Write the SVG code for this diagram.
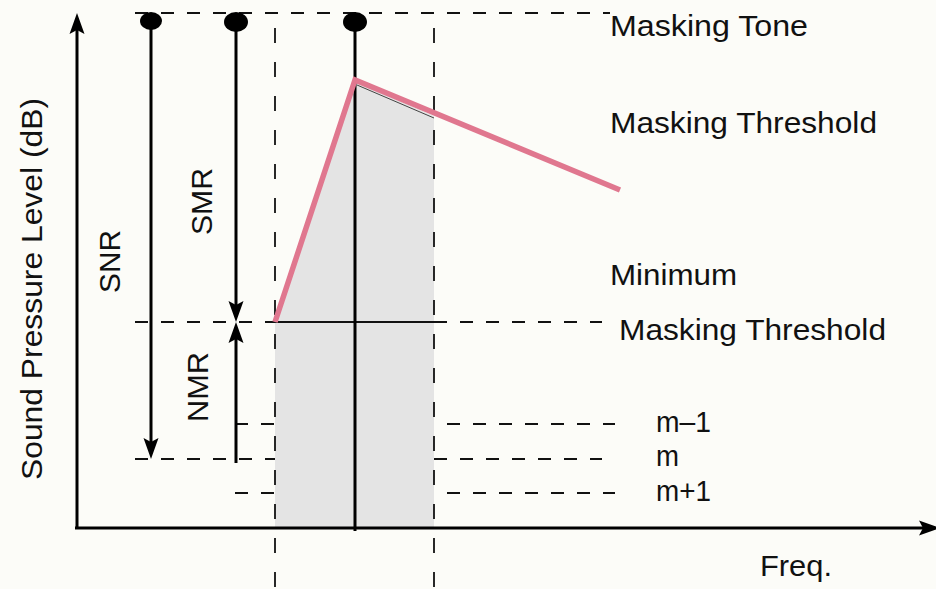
<svg xmlns="http://www.w3.org/2000/svg" width="936" height="589" viewBox="0 0 936 589">
<style>
.bg{fill:#fcfcf8}
.dh{stroke:#111;stroke-width:1.8;stroke-dasharray:13 13;fill:none}
.dv{stroke:#111;stroke-width:1.8;stroke-dasharray:15 19;fill:none}
.ln{stroke:#000;stroke-width:3;fill:none}
.ah{fill:#000}
.t{font-family:"Liberation Sans",Arial,Helvetica,sans-serif;font-size:30px;fill:#111}
</style>
<rect class="bg" x="0" y="0" width="936" height="589"/>
<g id="area">
<polygon points="275,322 355,82 434,116 434,527 275,527" fill="#e4e4e4"/>
<line x1="357" y1="85" x2="434" y2="118" stroke="#444" stroke-width="1"/>
</g>
<g id="connectors">
<line class="dh" x1="135" y1="13" x2="610" y2="13"/>
<line class="dv" x1="275" y1="28" x2="275" y2="589"/>
<line class="dv" x1="434" y1="28" x2="434" y2="589"/>
<line class="dh" x1="135" y1="322" x2="275" y2="322"/>
<line x1="275" y1="322" x2="434" y2="322" stroke="#111" stroke-width="1.8"/>
<line class="dh" x1="434" y1="322" x2="602" y2="322"/>
<line class="dh" x1="235" y1="424" x2="275" y2="424"/>
<line class="dh" x1="447" y1="424" x2="615" y2="424"/>
<line class="dh" x1="135" y1="459" x2="275" y2="459"/>
<line class="dh" x1="434" y1="459" x2="602" y2="459"/>
<line class="dh" x1="235" y1="493" x2="275" y2="493"/>
<line class="dh" x1="447" y1="493" x2="615" y2="493"/>
</g>
<g id="axes">
<line class="ln" x1="77" y1="528" x2="77" y2="26" stroke-width="3.5"/>
<path class="ah" d="M77,13 L84.5,34 L77,30 L69.5,34 Z"/>
<line class="ln" x1="75" y1="528" x2="928" y2="528" stroke-width="3.5"/>
<path class="ah" d="M940,528 L919,520.5 L923,528 L919,535.5 Z"/>
</g>
<g id="snr">
<ellipse cx="151" cy="21" rx="11" ry="9"/>
<line class="ln" x1="151" y1="21" x2="151" y2="446"/>
<path class="ah" d="M151,459 L143.5,438 L151,442 L158.5,438 Z"/>
</g>
<g id="smr">
<ellipse cx="236" cy="22" rx="12" ry="10"/>
<line class="ln" x1="236" y1="22" x2="236" y2="310"/>
<path class="ah" d="M236,322 L228.5,301 L236,305 L243.5,301 Z"/>
</g>
<g id="nmr">
<line class="ln" x1="236" y1="463" x2="236" y2="334"/>
<path class="ah" d="M236,322 L243.5,343 L236,339 L228.5,343 Z"/>
</g>
<g id="tone">
<ellipse cx="355" cy="22" rx="12" ry="10"/>
<line class="ln" x1="355" y1="22" x2="355" y2="531" stroke-width="3.5"/>
</g>
<g id="threshold">
<polyline points="275,322 355,80 620,190" fill="none" stroke="#e0778f" stroke-width="5.5" stroke-linejoin="miter"/>
</g>
<g id="labels">
<text class="t" x="610" y="36" textLength="198" lengthAdjust="spacingAndGlyphs">Masking Tone</text>
<text class="t" x="610" y="133" textLength="267" lengthAdjust="spacingAndGlyphs">Masking Threshold</text>
<text class="t" x="610" y="285" textLength="127" lengthAdjust="spacingAndGlyphs">Minimum</text>
<text class="t" x="619" y="340" textLength="267" lengthAdjust="spacingAndGlyphs">Masking Threshold</text>
<text class="t" x="656" y="432" textLength="55" lengthAdjust="spacingAndGlyphs">m–1</text>
<text class="t" x="656" y="466" textLength="23" lengthAdjust="spacingAndGlyphs">m</text>
<text class="t" x="656" y="501" textLength="55" lengthAdjust="spacingAndGlyphs">m+1</text>
<text class="t" x="760" y="576" textLength="72" lengthAdjust="spacingAndGlyphs">Freq.</text>
<text class="t" transform="translate(42,480) rotate(-90)" x="0" y="0" textLength="382" lengthAdjust="spacingAndGlyphs">Sound Pressure Level (dB)</text>
<text class="t" transform="translate(120,293) rotate(-90)" x="0" y="0" textLength="63" lengthAdjust="spacingAndGlyphs">SNR</text>
<text class="t" transform="translate(212,235) rotate(-90)" x="0" y="0" textLength="67" lengthAdjust="spacingAndGlyphs">SMR</text>
<text class="t" transform="translate(208,422) rotate(-90)" x="0" y="0" textLength="70" lengthAdjust="spacingAndGlyphs">NMR</text>
</g>
</svg>
